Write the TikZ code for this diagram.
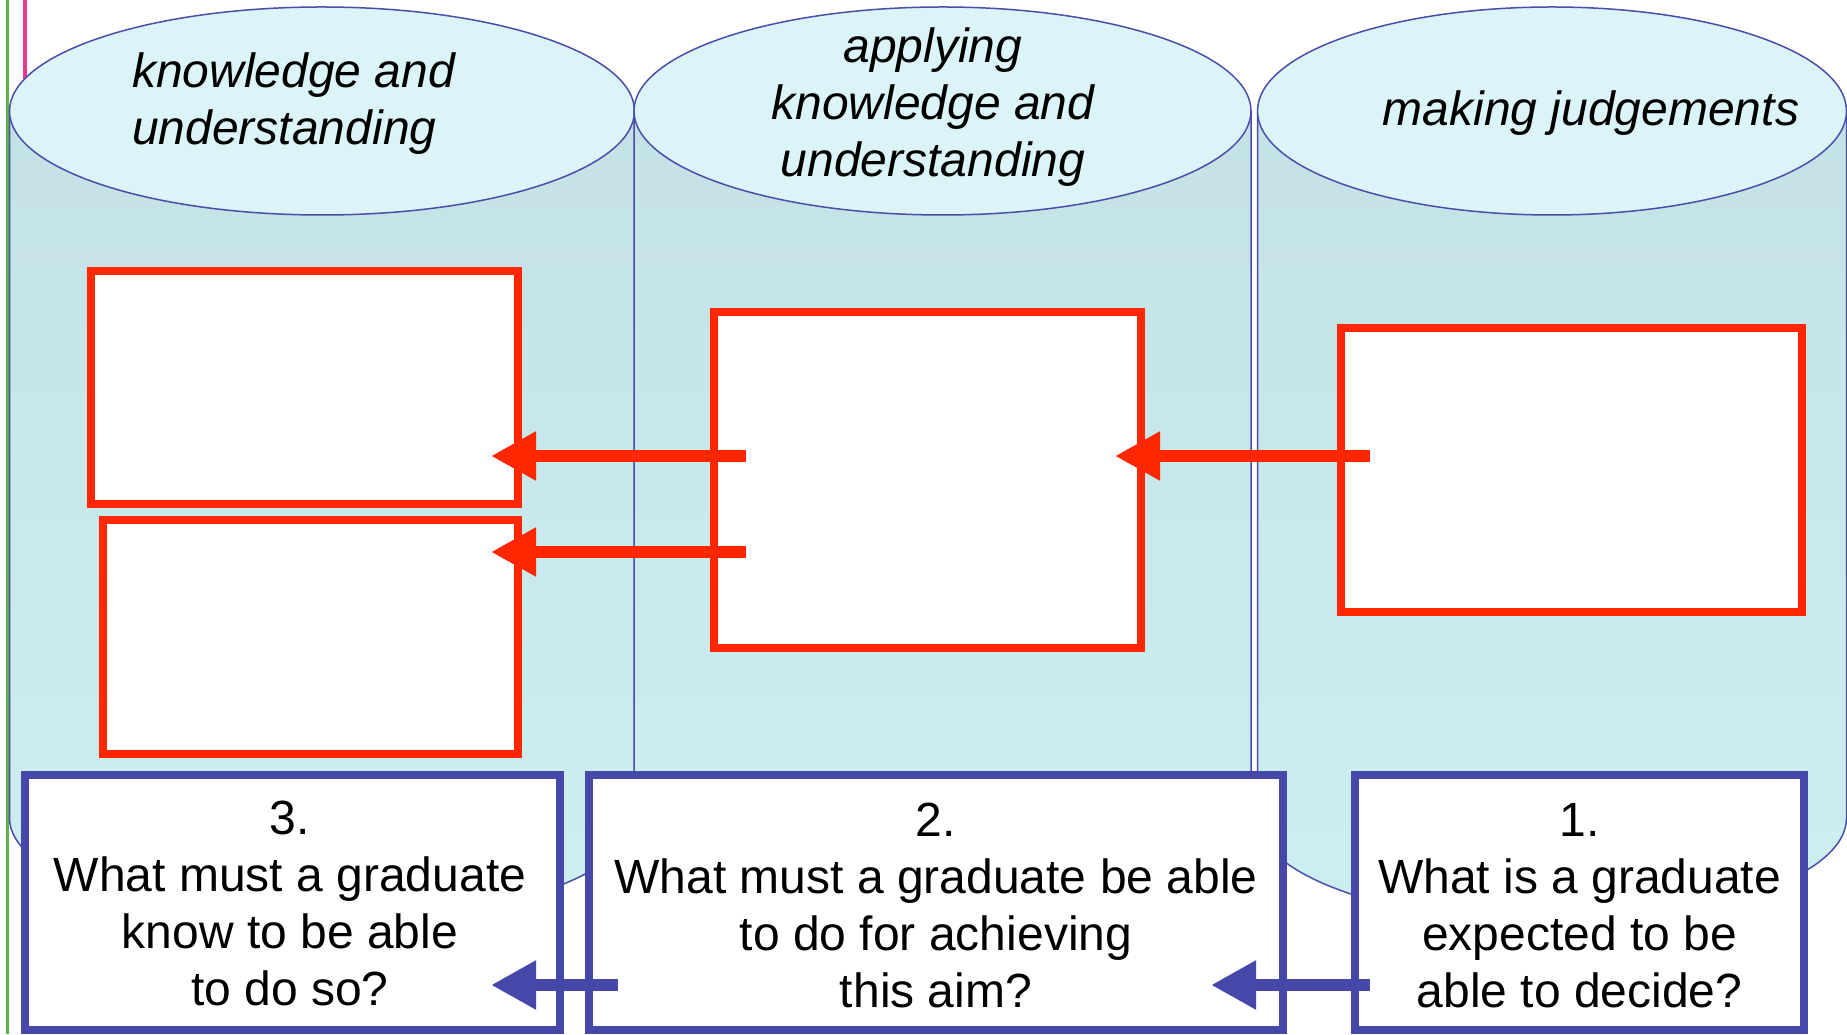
\documentclass[tikz,border=0pt]{standalone}
\usepackage{fontspec}
\setmainfont{Liberation Sans}
\usetikzlibrary{arrows.meta}
\definecolor{ellfill}{HTML}{DBF4F8}
\definecolor{bodytop}{HTML}{C4E2E6}
\definecolor{bodybot}{HTML}{CDEFF1}
\definecolor{cylline}{HTML}{4A4DAA}
\definecolor{redc}{HTML}{FF2600}
\definecolor{bluec}{HTML}{4548A8}
\definecolor{greenc}{HTML}{5DB14A}
\definecolor{pinkc}{HTML}{E8388E}
\newcommand\mycyl[4]{%
  \fill[cylbody] (#1,923) -- (#1,216) arc[start angle=180,end angle=360,x radius=#4,y radius=104] -- (#2,923) -- cycle;
  \draw[cylrim] (#1,923) -- (#1,216) arc[start angle=180,end angle=360,x radius=#4,y radius=104] -- (#2,923);
  \filldraw[cylrim, fill=ellfill] (#3,923) ellipse[x radius=#4, y radius=104];
}
\begin{document}
\begin{tikzpicture}[x=1pt,y=1pt,
  redbox/.style={draw=redc, line width=8pt, fill=white, inner sep=0pt, outer sep=0pt},
  bluebox/.style={draw=bluec, line width=8pt, fill=white, inner sep=0pt, outer sep=0pt},
  redarrow/.style={draw=redc, line width=12pt, -{Triangle[length=45pt,width=46pt]}},
  bluearrow/.style={draw=bluec, line width=12pt, -{Triangle[length=45pt,width=46pt]}},
  head/.style={font=\fontsize{48}{57}\selectfont\itshape, inner sep=0pt},
  question/.style={font=\fontsize{48}{57}\selectfont, inner sep=0pt, align=center, anchor=base},
  cylbody/.style={top color=bodytop, bottom color=bodybot},
  cylrim/.style={draw=cylline, line width=1.5pt},
]
\useasboundingbox (0,0) rectangle (1847,1034);
\fill[white] (0,0) rectangle (1847,1034);
% side lines
\draw[pinkc, line width=3.5pt] (25,1034) -- (25,900);
\draw[greenc, line width=3.5pt] (7.5,1034) -- (7.5,0);
% cylinders
\mycyl{9.5}{634.5}{322}{312.5}
\mycyl{634}{1251}{942.5}{308.5}
\mycyl{1257.5}{1846.5}{1552}{294.5}
% headings (base anchor = last line)
\node[head, anchor=base west, align=left] (h1) at (132,889) {knowledge and\\understanding};
\node[head, anchor=base, align=center] (h2) at (933,857) {applying\\knowledge and\\understanding};
\node[head, anchor=base] (h3) at (1591,908) {making judgements};
% red boxes
\node[redbox, minimum width=427pt, minimum height=233pt] (r1) at (304.5,646.5) {};
\node[redbox, minimum width=415pt, minimum height=234pt] (r2) at (310.5,397) {};
\node[redbox, minimum width=427pt, minimum height=336pt] (r3) at (927.5,554) {};
\node[redbox, minimum width=461pt, minimum height=284pt] (r4) at (1571.5,564) {};
% red arrows
\coordinate (a1s) at (746,578);
\coordinate (a1e) at (491,578);
\coordinate (a2s) at (746,482);
\coordinate (a2e) at (491,482);
\coordinate (a3s) at (1370,578);
\coordinate (a3e) at (1115,578);
\draw[redarrow] (a1s) -- (a1e);
\draw[redarrow] (a2s) -- (a2e);
\draw[redarrow] (a3s) -- (a3e);
% blue boxes
\node[bluebox, minimum width=535pt, minimum height=255pt] (b3) at (292.5,131.5) {};
\node[bluebox, minimum width=694pt, minimum height=255pt] (b2) at (936,131.5) {};
\node[bluebox, minimum width=449pt, minimum height=255pt] (b1) at (1579.5,131.5) {};
\node[question] (q3) at (290,29) {3.\\What must a graduate\\know to be able\\to do so?};
\node[question] (q2) at (936,27) {2.\\What must a graduate be able\\to do for achieving\\this aim?};
\node[question] (q1) at (1579.5,27) {1.\\What is a graduate\\expected to be\\able to decide?};
% blue arrows
\coordinate (ba1s) at (618,49);
\coordinate (ba1e) at (491,49);
\coordinate (ba2s) at (1370,49);
\coordinate (ba2e) at (1211,49);
\draw[bluearrow] (ba1s) -- (ba1e);
\draw[bluearrow] (ba2s) -- (ba2e);
\end{tikzpicture}
\end{document}
